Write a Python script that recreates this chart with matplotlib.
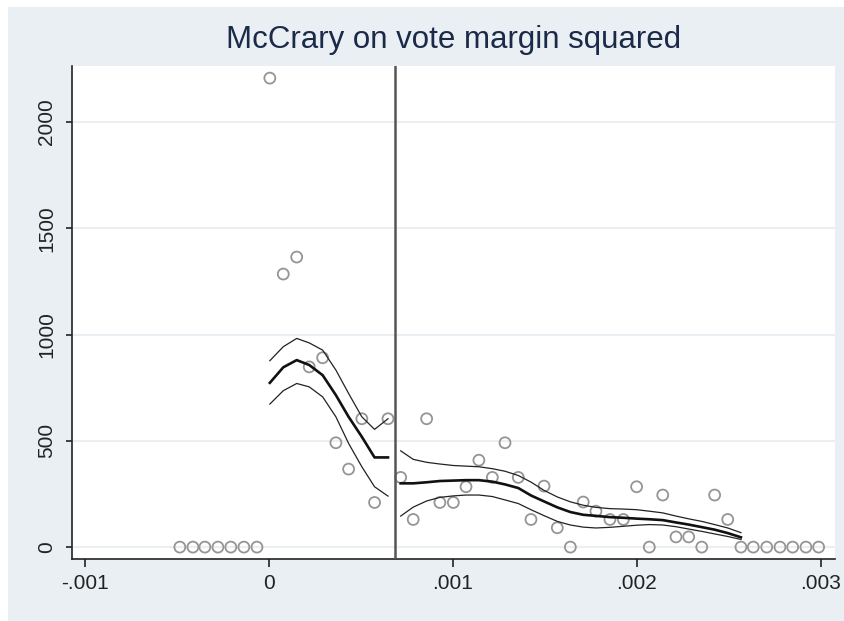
import numpy as np
import matplotlib
matplotlib.use('Agg')
import matplotlib.pyplot as plt
from matplotlib.patches import Rectangle

plt.rcParams['font.family'] = ['Liberation Sans', 'DejaVu Sans']

# binned density points (x in vote margin squared units, y = density)
bin_x = [-0.000484, -0.000413, -0.000348, -0.000277, -0.000207, -0.000136, -0.000065,
         0.000005, 0.000078, 0.000151, 0.000219, 0.000292, 0.000364, 0.000433,
         0.000505, 0.000574, 0.000647,
         0.000716, 0.000784, 0.000857, 0.000929, 0.001002, 0.001071, 0.001141,
         0.001214, 0.001283, 0.001355, 0.001424, 0.001495, 0.001567, 0.001638,
         0.001708, 0.001777, 0.001853, 0.001926, 0.001998, 0.002067, 0.002140,
         0.002212, 0.002281, 0.002352, 0.002422, 0.002493, 0.002565, 0.002632,
         0.002705, 0.002777, 0.002846, 0.002918, 0.002987]
bin_y = [0, 0, 0, 0, 0, 0, 0,
         2207, 1285, 1365, 848, 891, 491, 367, 604, 210, 604,
         328, 130, 604, 210, 210, 284, 409, 328, 491, 328, 130, 287, 91, 0,
         212, 169, 130, 130, 284, 0, 245, 48, 48, 0, 245, 130, 0, 0,
         0, 0, 0, 0, 0]

# left-of-cutoff fitted density and confidence band
left_x = [0.000005, 0.000078, 0.000151, 0.000219, 0.000292, 0.000364, 0.000433,
          0.000505, 0.000574, 0.000647]
left_fit = [773, 846, 880, 857, 809, 715, 613, 519, 422, 422]
left_hi = [877, 943, 982, 961, 927, 833, 723, 613, 554, 604]
left_lo = [673, 736, 770, 754, 707, 613, 488, 378, 284, 240]

# right-of-cutoff fitted density and confidence band
right_x = [0.000716, 0.000784, 0.000857, 0.000929, 0.001002, 0.001071, 0.001141,
           0.001214, 0.001283, 0.001355, 0.001424, 0.001495, 0.001567, 0.001638,
           0.001708, 0.001777, 0.001853, 0.001926, 0.001998, 0.002067, 0.002140,
           0.002212, 0.002281, 0.002352, 0.002422, 0.002493, 0.002565]
right_fit = [300, 300, 305, 311, 313, 315, 315, 308, 295, 278, 243, 215, 187, 165,
             152, 147, 141, 138, 134, 131, 127, 116, 106, 94, 82, 66, 46]
right_hi = [453, 413, 399, 391, 384, 381, 378, 369, 357, 337, 306, 267, 236, 213,
            197, 187, 181, 179, 176, 169, 161, 146, 133, 121, 106, 90, 68]
right_lo = [146, 188, 217, 234, 241, 245, 245, 238, 222, 205, 176, 148, 121, 104,
            94, 90, 93, 98, 103, 106, 104, 96, 85, 74, 62, 50, 36]

cutoff = 0.000685

x_ticks = [-0.001, 0, 0.001, 0.002, 0.003]
x_labels = ['-.001', '0', '.001', '.002', '.003']
y_ticks = [0, 500, 1000, 1500, 2000]

BG = '#e9eff2'

fig = plt.figure(figsize=(8.45, 6.21), dpi=100, facecolor='white')
fig.patches.append(Rectangle((8 / 845, 0), 837 / 845, 614 / 621,
                             transform=fig.transFigure, facecolor=BG,
                             edgecolor='none', zorder=-10))
ax = fig.add_axes([72 / 845, (621 - 559) / 621, (835 - 72) / 845, (559 - 66) / 621])
ax.set_facecolor('white')

for y in y_ticks:
    ax.axhline(y, color=BG, linewidth=1.5, zorder=0)

ax.scatter(bin_x, bin_y, s=62, facecolors='none', edgecolors='#959595',
           linewidths=1.3, zorder=3)

ax.plot(left_x, left_fit, color='#111111', linewidth=1.9, zorder=4)
ax.plot(left_x, left_hi, color='#222222', linewidth=0.9, zorder=4)
ax.plot(left_x, left_lo, color='#222222', linewidth=0.9, zorder=4)
ax.plot(right_x, right_fit, color='#111111', linewidth=1.9, zorder=4)
ax.plot(right_x, right_hi, color='#222222', linewidth=0.9, zorder=4)
ax.plot(right_x, right_lo, color='#222222', linewidth=0.9, zorder=4)

ax.axvline(cutoff, color='#555555', linewidth=1.8, zorder=5)

ax.set_xlim(-0.00107, 0.003076)
ax.set_ylim(-56, 2264)

ax.set_xticks(x_ticks)
ax.set_xticklabels(x_labels)
ax.set_yticks(y_ticks)
ax.set_yticklabels([str(v) for v in y_ticks], rotation=90, va='center')

ax.spines['top'].set_visible(False)
ax.spines['right'].set_visible(False)
for side in ['left', 'bottom']:
    ax.spines[side].set_color('#222222')
    ax.spines[side].set_linewidth(1.2)

ax.tick_params(axis='x', length=6, width=1.2, pad=5, labelsize=15, colors='#222222')
ax.tick_params(axis='y', length=4.5, width=1.2, pad=7, labelsize=15, colors='#222222')

fig.text((72 + 835) / 2 / 845, 1 - 48 / 621, 'McCrary on vote margin squared',
         ha='center', va='baseline', fontsize=22.5, color='#1c2a4a')

fig.savefig('out.png', dpi=100, facecolor='white')
